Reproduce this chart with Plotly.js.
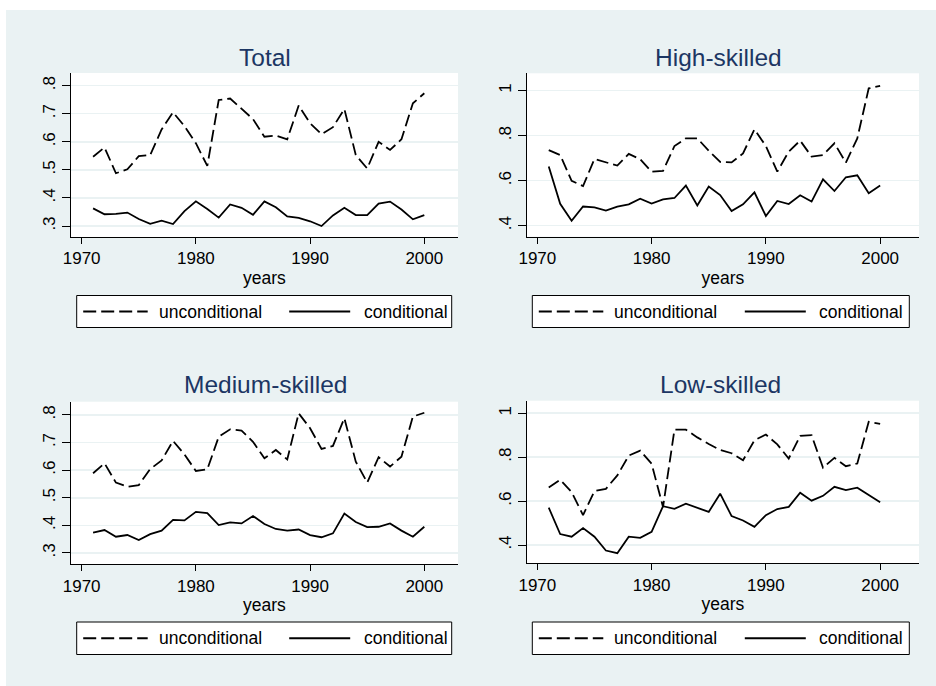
<!DOCTYPE html>
<html>
<head>
<meta charset="utf-8">
<script src="https://cdn.plot.ly/plotly-3.0.1.min.js"></script>
<style>
html,body{margin:0;padding:0;background:#ffffff;}
#bg{position:absolute;left:6px;top:10px;width:930px;height:676px;background:#eaf2f3;}
#plot{position:absolute;left:0;top:0;width:936px;height:686px;}
</style>
</head>
<body>
<div id="bg"></div>
<div id="plot"></div>
<script>
// ---------- data ----------
var years = [1971,1972,1973,1974,1975,1976,1977,1978,1979,1980,1981,1982,1983,1984,1985,
             1986,1987,1988,1989,1990,1991,1992,1993,1994,1995,1996,1997,1998,1999,2000];

var totalUncond = [0.547,0.580,0.488,0.502,0.549,0.553,0.644,0.705,0.656,0.595,0.514,0.749,0.754,0.719,0.681,
                   0.618,0.622,0.609,0.729,0.666,0.627,0.652,0.717,0.553,0.505,0.600,0.571,0.609,0.737,0.773];
var totalCond   = [0.363,0.342,0.343,0.348,0.325,0.308,0.319,0.307,0.353,0.388,0.361,0.330,0.377,0.365,0.340,
                   0.388,0.367,0.334,0.329,0.317,0.300,0.338,0.365,0.339,0.339,0.380,0.387,0.359,0.324,0.339];

var highUncond  = [0.736,0.714,0.599,0.576,0.696,0.680,0.667,0.719,0.695,0.640,0.643,0.754,0.788,0.788,0.733,
                   0.683,0.681,0.721,0.828,0.754,0.640,0.729,0.778,0.707,0.714,0.766,0.680,0.788,1.010,1.021];
var highCond    = [0.663,0.497,0.422,0.485,0.481,0.467,0.485,0.495,0.520,0.498,0.517,0.523,0.578,0.490,0.574,
                   0.536,0.465,0.495,0.548,0.443,0.510,0.496,0.535,0.507,0.606,0.554,0.615,0.624,0.544,0.578];

var mediumUncond = [0.589,0.625,0.555,0.540,0.546,0.604,0.635,0.706,0.657,0.597,0.603,0.721,0.748,0.743,0.703,
                    0.643,0.673,0.639,0.806,0.752,0.677,0.688,0.788,0.631,0.555,0.647,0.613,0.649,0.794,0.808];
var mediumCond   = [0.374,0.383,0.359,0.365,0.347,0.368,0.381,0.420,0.418,0.449,0.444,0.401,0.411,0.407,0.434,
                    0.405,0.387,0.381,0.385,0.365,0.357,0.371,0.443,0.412,0.394,0.395,0.407,0.381,0.359,0.395];

var lowUncond = [0.662,0.697,0.641,0.536,0.646,0.656,0.717,0.807,0.830,0.770,0.573,0.925,0.925,0.890,0.860,
                 0.833,0.818,0.786,0.877,0.903,0.858,0.794,0.897,0.900,0.752,0.797,0.759,0.771,0.961,0.952];
var lowCond   = [0.570,0.450,0.438,0.477,0.438,0.375,0.363,0.438,0.433,0.460,0.577,0.565,0.588,0.570,0.551,
                 0.634,0.532,0.512,0.483,0.536,0.564,0.574,0.638,0.602,0.624,0.665,0.650,0.661,0.627,0.595];

var panelTitles = ["Total", "High-skilled", "Medium-skilled", "Low-skilled"];
var seriesNames = ["unconditional", "conditional"];
var xAxisTitle = "years";
var xTickVals = [1970, 1980, 1990, 2000];
var xTickText = ["1970", "1980", "1990", "2000"];
var yTickValsA = [0.3, 0.4, 0.5, 0.6, 0.7, 0.8];
var yTickTextA = [".3", ".4", ".5", ".6", ".7", ".8"];
var yTickValsB = [0.4, 0.6, 0.8, 1.0];
var yTickTextB = [".4", ".6", ".8", "1"];

// ---------- layout helpers ----------
var W = 936, H = 686;
function px(x) { return x / W; }
function py(y) { return 1 - y / H; }

var FONT = "Liberation Sans, Arial, Helvetica, sans-serif";
var TITLE_COLOR = "#1c3663";
var GRID = "#eaf2f3";
var DASH = "12px,5px";

var panels = [
  {u: totalUncond,  c: totalCond,  x0: 70.7,  x1: 458,   y0: 73,    y1: 237,   xr: [1969.04, 2002.95], yr: [0.261, 0.845], tv: yTickValsA, tt: yTickTextA, tx: 265, ty: 57,  lgL: 76.7,  lgW: 375, lgT: 295.5, lgB: 327.5},
  {u: highUncond,   c: highCond,   x0: 526.7, x1: 919,   y0: 73.3,  y1: 236.7, xr: [1969.07, 2003.4],  yr: [0.351, 1.077], tv: yTickValsB, tt: yTickTextB, tx: 718, ty: 57,  lgL: 532.3, lgW: 377, lgT: 295.5, lgB: 327.5},
  {u: mediumUncond, c: mediumCond, x0: 70.7,  x1: 458,   y0: 401.7, y1: 564.3, xr: [1969.04, 2002.95], yr: [0.259, 0.848], tv: yTickValsA, tt: yTickTextA, tx: 265, ty: 384, lgL: 76.7,  lgW: 375, lgT: 622,   lgB: 654.5},
  {u: lowUncond,    c: lowCond,    x0: 526.7, x1: 919,   y0: 400.7, y1: 563.3, xr: [1969.07, 2003.4],  yr: [0.317, 1.057], tv: yTickValsB, tt: yTickTextB, tx: 720, ty: 384, lgL: 532.3, lgW: 377, lgT: 622,   lgB: 654.5}
];

var data = [];
var layout = {
  width: W, height: H,
  margin: {l: 0, r: 0, t: 0, b: 0, pad: 0},
  paper_bgcolor: "rgba(0,0,0,0)",
  plot_bgcolor: "#ffffff",
  showlegend: false,
  font: {family: FONT, size: 17, color: "#000000"},
  annotations: [],
  shapes: []
};

panels.forEach(function (p, i) {
  var n = i + 1;
  var xa = n === 1 ? "x" : "x" + n;
  var ya = n === 1 ? "y" : "y" + n;
  data.push({x: years, y: p.u, xaxis: xa, yaxis: ya, type: "scatter", mode: "lines",
             name: seriesNames[0], line: {color: "#000", width: 1.8, dash: DASH}});
  data.push({x: years, y: p.c, xaxis: xa, yaxis: ya, type: "scatter", mode: "lines",
             name: seriesNames[1], line: {color: "#000", width: 1.8}});

  layout["xaxis" + (n === 1 ? "" : n)] = {
    domain: [px(p.x0), px(p.x1)], range: p.xr, anchor: ya,
    tickmode: "array", tickvals: xTickVals, ticktext: xTickText,
    ticks: "outside", ticklen: 6, tickwidth: 1, tickcolor: "#000",
    showline: true, linecolor: "#000", linewidth: 1,
    showgrid: false, zeroline: false,
    tickfont: {family: FONT, size: 17, color: "#000"},
    title: {text: xAxisTitle, font: {family: FONT, size: 17.5, color: "#000"}, standoff: 4}
  };
  layout["yaxis" + (n === 1 ? "" : n)] = {
    domain: [py(p.y1), py(p.y0)], range: p.yr, anchor: xa,
    tickmode: "array", tickvals: p.tv, ticktext: p.tt, tickangle: -90,
    ticks: "outside", ticklen: 8, tickwidth: 1, tickcolor: "#000",
    showline: true, linecolor: "#000", linewidth: 1,
    showgrid: true, gridcolor: GRID, gridwidth: 1.5, zeroline: false,
    tickfont: {family: FONT, size: 17, color: "#000"}
  };

  // panel title
  layout.annotations.push({xref: "paper", yref: "paper", x: px(p.tx), y: py(p.ty),
    xanchor: "center", yanchor: "middle", showarrow: false, text: panelTitles[i],
    font: {family: FONT, size: 24.5, color: TITLE_COLOR}});

  // legend (drawn per panel, Stata style)
  var L = p.lgL, T = p.lgT, B = p.lgB, mid = (T + B) / 2;
  layout.shapes.push({type: "rect", xref: "paper", yref: "paper",
    x0: px(L), x1: px(L + p.lgW), y0: py(B), y1: py(T),
    line: {color: "#000", width: 1}, fillcolor: "#ffffff", layer: "below"});
  layout.shapes.push({type: "line", xref: "paper", yref: "paper",
    x0: px(L + 6.5), x1: px(L + 71), y0: py(mid), y1: py(mid),
    line: {color: "#000", width: 1.8, dash: "13px,5px"}});
  layout.shapes.push({type: "line", xref: "paper", yref: "paper",
    x0: px(L + 212.5), x1: px(L + 273.5), y0: py(mid), y1: py(mid),
    line: {color: "#000", width: 1.8}});
  layout.annotations.push({xref: "paper", yref: "paper", x: px(L + 80), y: py(mid),
    xanchor: "left", yanchor: "middle", showarrow: false, text: seriesNames[0],
    font: {family: FONT, size: 17.5, color: "#000"}});
  layout.annotations.push({xref: "paper", yref: "paper", x: px(L + 285), y: py(mid),
    xanchor: "left", yanchor: "middle", showarrow: false, text: seriesNames[1],
    font: {family: FONT, size: 17.5, color: "#000"}});
});

Plotly.newPlot("plot", data, layout, {staticPlot: true, displayModeBar: false});
</script>
</body>
</html>
